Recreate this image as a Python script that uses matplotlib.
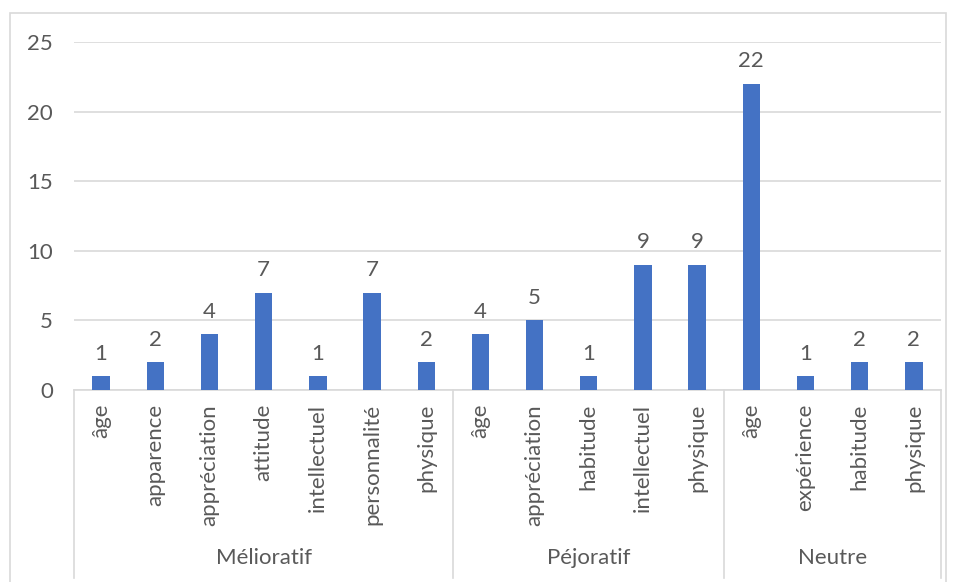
import matplotlib.pyplot as plt
from matplotlib.patches import Rectangle

# data
groups = ['Mélioratif', 'Péjoratif', 'Neutre']
cats_meliorant = ['âge', 'apparence', 'appréciation', 'attitude', 'intellectuel', 'personnalité', 'physique']
vals_meliorant = [1, 2, 4, 7, 1, 7, 2]
cats_pejoratif = ['âge', 'appréciation', 'habitude', 'intellectuel', 'physique']
vals_pejoratif = [4, 5, 1, 9, 9]
cats_neutre = ['âge', 'expérience', 'habitude', 'physique']
vals_neutre = [22, 1, 2, 2]
y_ticks = [0, 5, 10, 15, 20, 25]

plt.rcParams['font.family'] = ['Lato', 'DejaVu Sans']
txt_col = '#595959'
grid_col = '#d9d9d9'
bar_col = '#4472c4'
fs = 16

labels = cats_meliorant + cats_pejoratif + cats_neutre
values = vals_meliorant + vals_pejoratif + vals_neutre
sizes = [len(cats_meliorant), len(cats_pejoratif), len(cats_neutre)]
x = list(range(len(values)))

W, H = 957, 582
fig = plt.figure(figsize=(W / 100, H / 100), dpi=100)
fig.patches.append(Rectangle((10 / W, -0.1), (946 - 10) / W, 1.1 - 13 / H,
                             transform=fig.transFigure, fill=False,
                             edgecolor=grid_col, linewidth=1.2))

ax = fig.add_axes([74 / W, 192 / H, (941 - 74) / W, 348 / H])
bars = ax.bar(x, values, width=0.32, color=bar_col, zorder=3)
for b, v in zip(bars, values):
    ax.annotate(str(v), (b.get_x() + b.get_width() / 2, v), xytext=(0, 9),
                textcoords='offset points', ha='center', va='bottom',
                fontsize=fs, color=txt_col)

ax.set_xlim(-0.5, len(values) - 0.5)
ax.set_ylim(0, 25)
ax.set_yticks(y_ticks)
ax.tick_params(axis='y', length=0, pad=15, labelsize=fs, labelcolor=txt_col)
ax.set_xticks([])
ax.grid(axis='y', color=grid_col, linewidth=1.2, zorder=0)
for s in ['top', 'right', 'left']:
    ax.spines[s].set_visible(False)
ax.spines['bottom'].set_color(grid_col)
ax.spines['bottom'].set_linewidth(1.2)

tr = ax.get_xaxis_transform()
for xi, lab in zip(x, labels):
    ax.text(xi, -0.04, lab, rotation=90, ha='center', va='top',
            fontsize=fs, color=txt_col, transform=tr)

# group separators and group labels
start = 0
bounds = [-0.5]
for g, n in zip(groups, sizes):
    ax.text(start + (n - 1) / 2, -0.483, g, ha='center', va='center',
            fontsize=fs, color=txt_col, transform=tr)
    start += n
    bounds.append(start - 0.5)
for b in bounds:
    ax.plot([b, b], [0, -0.54], color=grid_col, linewidth=1.2,
            transform=tr, clip_on=False)

fig.savefig('out.png', dpi=100)
